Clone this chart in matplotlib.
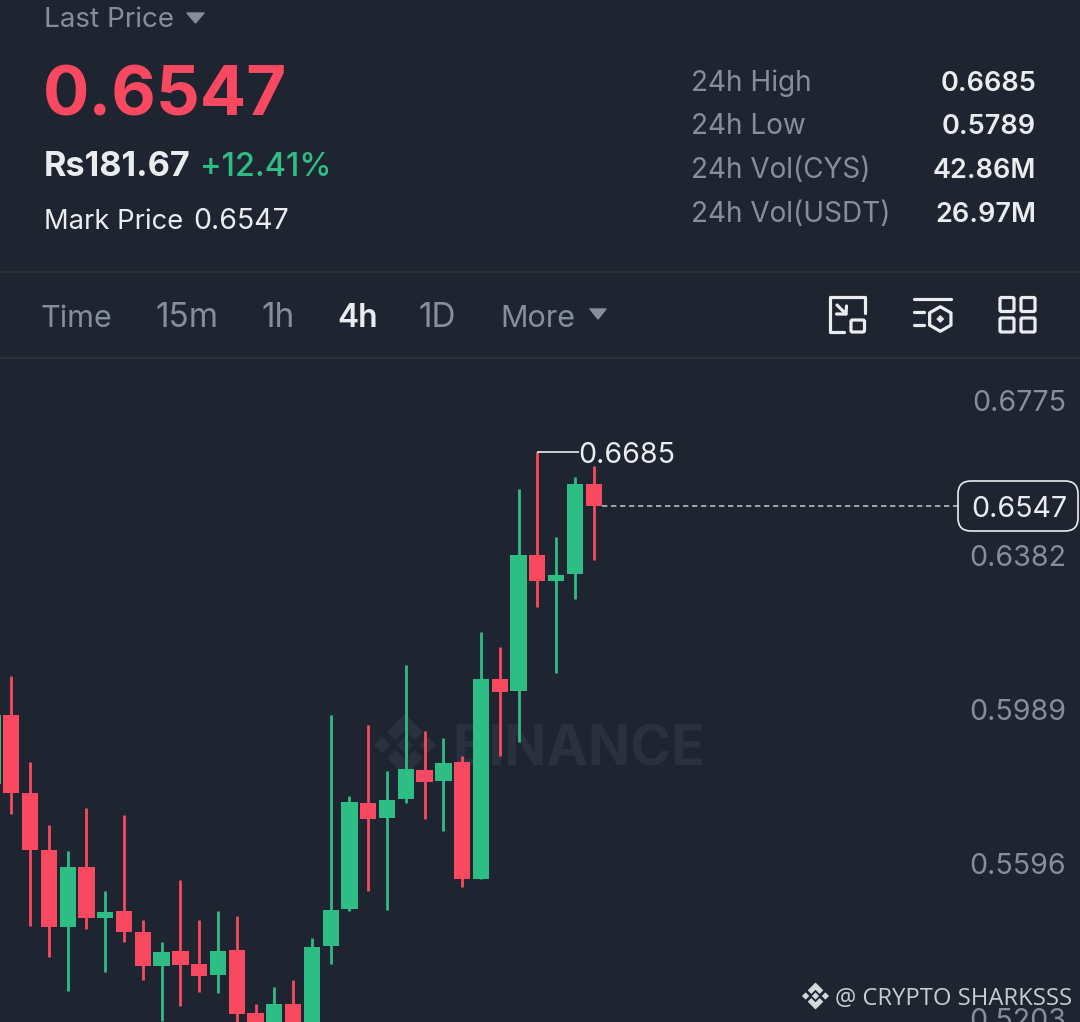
import numpy as np
import matplotlib
matplotlib.use("Agg")
import matplotlib.pyplot as plt
from matplotlib.patches import Polygon, FancyBboxPatch

# ---- data (prices) ----
idx = np.arange(-1, 32)
opens = [0.5840,0.6016,0.5816,0.5672,0.5475,0.5629,0.5498,0.5516,0.5462,0.5375,0.5414,0.5381,0.5353,0.5418,0.5256,0.5213,0.5279,0.5190,0.5427,0.5522,0.5792,0.5753,0.5801,0.5876,0.5848,0.5896,0.5599,0.6108,0.6078,0.6423,0.6358,0.6376,0.6605]
closes = [0.6016,0.5816,0.5672,0.5475,0.5629,0.5498,0.5514,0.5462,0.5375,0.5412,0.5380,0.5352,0.5415,0.5255,0.5213,0.5280,0.5213,0.5424,0.5519,0.5793,0.5751,0.5798,0.5877,0.5846,0.5893,0.5599,0.6107,0.6074,0.6423,0.6358,0.6372,0.6605,0.6547]
highs = [0.6120,0.6115,0.5897,0.5735,0.5670,0.5778,0.5568,0.5761,0.5493,0.5437,0.5596,0.5493,0.5516,0.5504,0.5279,0.5324,0.5340,0.5447,0.6016,0.5809,0.5990,0.5873,0.6143,0.5975,0.5957,0.5912,0.6227,0.6188,0.6591,0.6685,0.6470,0.6621,0.6650]
lows = [0.5760,0.5763,0.5479,0.5399,0.5313,0.5470,0.5360,0.5437,0.5340,0.5237,0.5275,0.5310,0.5308,0.5213,0.5187,0.5187,0.5187,0.5187,0.5381,0.5517,0.5568,0.5519,0.5791,0.5750,0.5720,0.5578,0.5597,0.5912,0.5946,0.6292,0.6124,0.6312,0.6411]
axis_ticks = [0.6775, 0.6382, 0.5989, 0.5596, 0.5203]
last_price = 0.6547
period_labels = ["Time", "15m", "1h", "4h", "1D", "More"]
stat_labels = ["24h High", "24h Low", "24h Vol(CYS)", "24h Vol(USDT)"]
stat_values = ["0.6685", "0.5789", "42.86M", "26.97M"]

BG = "#1f2530"; GREEN = "#2ebd85"; RED = "#f84960"
WHITE = "#eaecef"; GREY = "#848e9c"; LIGHT = "#b7bdc6"; LINE = "#2b3139"
plt.rcParams["font.family"] = ["Inter", "DejaVu Sans"]

fig = plt.figure(figsize=(10.8, 10.22), dpi=100, facecolor=BG)
ui = fig.add_axes([0, 0, 1, 1], zorder=0)
ui.set_xlim(0, 1080); ui.set_ylim(1022, 0); ui.axis("off")

def T(x, y, s, size, color=WHITE, weight="normal", ha="left", family=None, a=ui):
    kw = {"family": family} if family else {}
    return a.text(x, y, s, fontsize=size, color=color, fontweight=weight, ha=ha, va="baseline", **kw)

# header
T(43.5, 27, "Last Price", 20, GREY)
ui.add_patch(Polygon([(187, 13), (204, 13), (195.5, 23)], closed=True, fc=GREY, ec=GREY, lw=1, joinstyle="round"))
T(43, 116, f"{last_price:.4f}", 49.5, RED, "bold")
T(43.5, 176, "Rs181.67", 24.6, WHITE, "bold")
T(200, 176, "+12.41%", 23.3, GREEN, "medium")
T(43.5, 229, "Mark Price", 19.7, WHITE)
T(193.5, 229, f"{last_price:.4f}", 20.5, WHITE)
for y, s, v in zip([91, 134, 178, 222], stat_labels, stat_values):
    T(691, y, s, 20.1, GREY)
    T(1036, y, v, 19.5, WHITE, "semibold", ha="right")
ui.plot([0, 1080], [272, 272], color=LINE, lw=1.2)
ui.plot([0, 1080], [358, 358], color=LINE, lw=1.5)

# period bar
for x, s, size in zip([41, 155.5, 261, 337, 418, 500], period_labels, [22, 24, 24, 23, 24, 22]):
    active = s == "4h"
    T(x, 327, s, size, WHITE if active else GREY, "semibold" if active else "normal")
ui.add_patch(Polygon([(590, 309), (606, 309), (598, 319)], closed=True, fc=GREY, ec=GREY, lw=1, joinstyle="round"))

# toolbar icons
ik = dict(color=WHITE, lw=2.3, solid_capstyle="round", solid_joinstyle="round")
ui.plot([844.3, 830, 830, 864.7, 864.7], [332, 332, 297.5, 297.5, 313], **ik)
ui.add_patch(FancyBboxPatch((851, 320), 13.5, 12, boxstyle="round,pad=0,rounding_size=1.5", fc="none", ec=WHITE, lw=2.3))
ui.plot([837, 846], [305, 314], **ik)
ui.plot([836.5, 846, 846.5], [314, 314, 306], **ik)
ui.plot([913.5, 950.5], [299.3, 299.3], **ik)
ui.plot([913.5, 924], [312, 312], **ik)
ui.plot([913.5, 924], [325, 325], **ik)
a = np.deg2rad(np.arange(-90, 270, 60))
ui.add_patch(Polygon(np.c_[940.3 + 12.3 * np.cos(a), 319 + 12.3 * np.sin(a)], closed=True, fc="none", ec=WHITE, lw=2.3, joinstyle="round"))
ui.add_patch(Polygon([(940.3, 315), (944.3, 319), (940.3, 323), (936.3, 319)], closed=True, fc=WHITE, ec="none"))
for x0 in (1000, 1021):
    for y0 in (297.5, 318):
        ui.add_patch(FancyBboxPatch((x0, y0), 14, 14, boxstyle="round,pad=0,rounding_size=1.5", fc="none", ec=WHITE, lw=2.3))

def logo(cx, cy, R, color, target):
    sm = 0.27
    for dx, dy in [(0, 0), (-0.73, 0), (0.73, 0)]:
        px, py = cx + dx * R, cy + dy * R
        r = sm * R
        target.add_patch(Polygon([(px, py - r), (px + r, py), (px, py + r), (px - r, py)], closed=True, fc=color, ec="none"))
    top = np.array([(0, -1), (0.58, -0.42), (0.31, -0.15), (0, -0.46), (-0.31, -0.15), (-0.58, -0.42)])
    for sgn in (1, -1):
        target.add_patch(Polygon(np.c_[cx + top[:, 0] * R, cy + sgn * top[:, 1] * R], closed=True, fc=color, ec="none"))

# watermark (under the candles)
logo(405, 745, 31, "#2a303c", ui)
T(452, 765, "BINANCE", 40, "#2a303c", "bold")

# chart axes
ax = fig.add_axes([0, 0, 1, (1022 - 358) / 1022], zorder=1)
ax.patch.set_alpha(0)
ax.axis("off")
step = 18.787
ax.set_xlim(-11.3 / step, (1080 - 11.3) / step)
ax.set_ylim(0.78374 - 1022 * 0.000254777, 0.78374 - 358 * 0.000254777)

opens = np.array(opens); closes = np.array(closes)
colors = [GREEN if c >= o else RED for o, c in zip(opens, closes)]
ax.vlines(idx, lows, highs, colors=colors, lw=2.0)
ax.bar(idx, np.abs(closes - opens), bottom=np.minimum(opens, closes), width=16.3 / step, color=colors, lw=0)

for p in axis_ticks:
    ax.annotate(f"{p:.4f}", xy=(1, p), xycoords=ax.get_yaxis_transform(), xytext=(-14, 5.5),
                textcoords="offset pixels", ha="right", va="baseline", fontsize=20.6, color=GREY, annotation_clip=False)

# high marker
hi = max(highs); hi_i = idx[int(np.argmax(highs))]
ax.hlines(hi, hi_i, hi_i + 42 / step, color=WHITE, lw=1.2)
ax.annotate(f"{hi:.4f}", xy=(hi_i + 42 / step, hi), xytext=(-1, -11), textcoords="offset pixels",
            ha="left", va="baseline", fontsize=20.6, color=WHITE)

# last price line and box
ax.hlines(last_price, idx[-1] + 0.43, (958 - 11.3) / step, color=LIGHT, lw=1.2, linestyles=(0, (3.2, 2.2)))
ax.add_patch(FancyBboxPatch((958, 1022 - 531), 120, 50, boxstyle="round,pad=0,rounding_size=13",
                            fc=BG, ec=WHITE, lw=1.2, transform=None, zorder=5))
ax.annotate(f"{last_price:.4f}", xy=(1, last_price), xycoords=ax.get_yaxis_transform(), xytext=(-61, -11),
            textcoords="offset pixels", ha="center", va="baseline", fontsize=20.6, color=WHITE, zorder=6)

# credit
top = fig.add_axes([0, 0, 1, 1], zorder=2)
top.set_xlim(0, 1080); top.set_ylim(1022, 0); top.axis("off")
logo(815.5, 996, 13.5, "#d5d8dc", top)
T(835, 1005, "@ CRYPTO SHARKSSS", 17.1, "#c8ccd2", family="Open Sans", a=top)

fig.savefig("out.png", dpi=100, facecolor=BG)
